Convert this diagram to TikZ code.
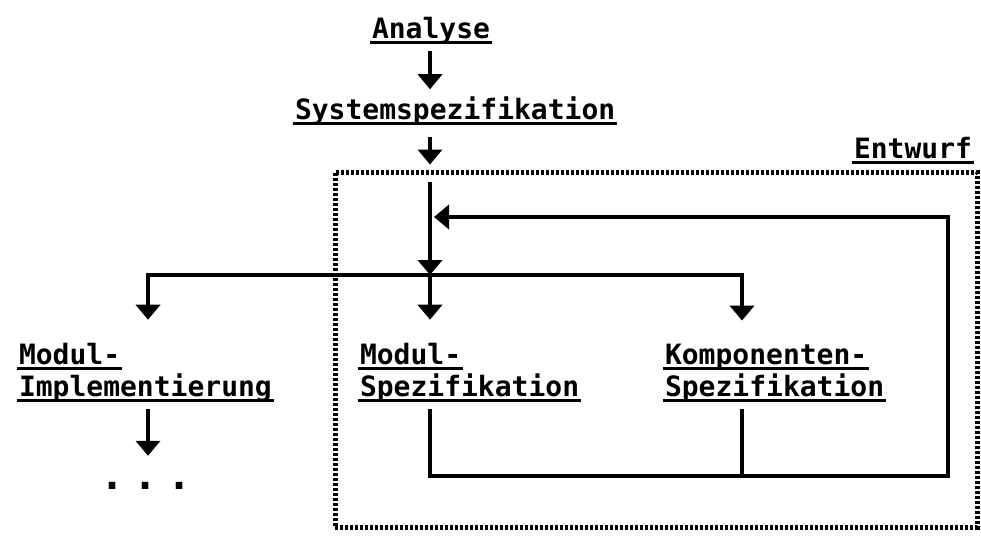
\documentclass[tikz,border=0pt]{standalone}
\usepackage{fontspec}
\setmonofont{DejaVu Sans Mono}
\usetikzlibrary{positioning,arrows.meta,calc}

% underlined word, rule slightly wider than the text
\newcommand\unterstr[1]{\setbox0\hbox{#1}\rlap{\kern-2pt\rule[-5.5pt]{\dimexpr\wd0+4pt\relax}{3pt}}\box0}

\begin{document}
\begin{tikzpicture}[x=1pt, y=-1pt,
    lbl/.style={inner sep=0pt, outer sep=7pt, align=left, anchor=base west,
                font=\fontsize{28}{32}\selectfont\ttfamily\bfseries},
    ln/.style={line width=3.8pt},
    arr/.style={ln, -{Triangle[width=24pt,length=15pt]}},
    rahmen/.style={draw, line width=5pt, dash pattern=on 3pt off 2pt,
                   minimum width=642pt, minimum height=355pt, inner sep=0pt}]
  \useasboundingbox (0,0) rectangle (981,535);
  % Entwurf-Rahmen
  \node[rahmen] (ent) at (656,349.5) {};
  \node[lbl, anchor=base east, outer sep=0pt] (entl) at (972,158) {\unterstr{Entwurf}};
  % Phasen
  \node[lbl, anchor=base] (ana) at (431,38) {\unterstr{Analyse}};
  \node[lbl] (sys) at (288,119) {\unterstr{Systemspezifikation}};
  \node[lbl] (mi) at (12,396) {\unterstr{Modul-}\\\unterstr{Implementierung}};
  \node[lbl] (ms) at (353,396) {\unterstr{Modul-}\\\unterstr{Spezifikation}};
  \node[lbl] (ks) at (658,396) {\unterstr{Komponenten-}\\\unterstr{Spezifikation}};
  \node[lbl, font=\fontsize{40}{40}\selectfont\ttfamily\bfseries] (dots) at (93,489)
       {.\hspace{9.5pt}.\hspace{9.5pt}.};
  % Hilfspunkte
  \coordinate (split) at (430,275);
  \coordinate (lft) at (148,275);
  \coordinate (rgt) at (742,275);
  \coordinate (ret) at (948,476);
  \coordinate (fb) at (430,217);
  % Pfeile
  \draw[arr] (ana.south -| split) -- (sys.north -| split);
  \draw[arr, shorten <=5pt, shorten >=5pt] (sys.south -| split) -- (ent.north -| split);
  \draw[arr, shorten <=12pt] (ent.north -| split) -- (split);
  \draw[arr, shorten >=16pt] (split) -- (ms.north -| split);
  \draw[arr, shorten >=16pt] (split) -| (mi.north -| lft);
  \draw[arr, shorten >=16pt] (split) -| (ks.north -| rgt);
  \draw[arr, shorten >=19pt] (mi.south -| lft) -- (dots.north -| lft);
  % Rueckkopplung
  \draw[ln] (ks.south -| rgt) -- (rgt |- ret);
  \draw[arr, shorten >=4pt] (ms.south -| split) |- (ret) |- (fb);
\end{tikzpicture}
\end{document}
